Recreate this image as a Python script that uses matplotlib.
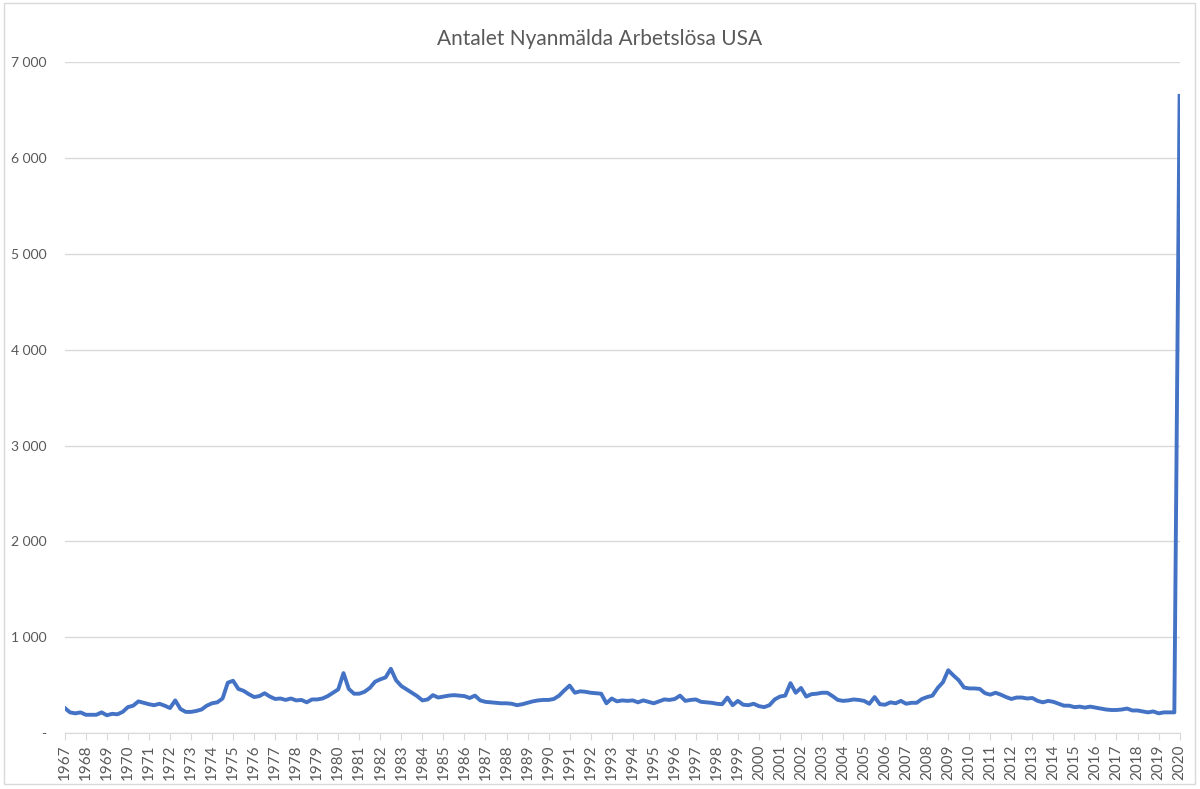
import matplotlib
matplotlib.use("Agg")
import matplotlib.pyplot as plt
from matplotlib.patches import Rectangle
from matplotlib.ticker import FuncFormatter
import numpy as np

plt.rcParams['font.family'] = ['Lato', 'DejaVu Sans']

# kvartalsvärden (tusental), 1967 Q1 .. 2020 Q1
years = list(range(1967, 2021))
claims = [
    260, 215, 205, 215,   # 1967
    190, 190, 190, 215,   # 1968
    185, 200, 195, 220,   # 1969
    270, 285, 330, 315,   # 1970
    300, 290, 305, 285,   # 1971
    260, 340, 250, 220,   # 1972
    220, 230, 245, 285,   # 1973
    310, 320, 360, 525,   # 1974
    545, 460, 440, 405,   # 1975
    375, 385, 415, 380,   # 1976
    355, 360, 345, 360,   # 1977
    340, 345, 320, 350,   # 1978
    350, 360, 385, 420,   # 1979
    455, 625, 460, 410,   # 1980
    410, 430, 470, 535,   # 1981
    560, 580, 670, 550,   # 1982
    490, 455, 420, 385,   # 1983
    340, 350, 395, 370,   # 1984
    380, 390, 395, 390,   # 1985
    385, 365, 390, 340,   # 1986
    325, 320, 315, 310,   # 1987
    310, 305, 290, 300,   # 1988
    315, 330, 340, 345,   # 1989
    345, 355, 390, 445,   # 1990
    495, 420, 435, 430,   # 1991
    420, 415, 410, 310,   # 1992
    360, 330, 340, 335,   # 1993
    340, 320, 340, 325,   # 1994
    310, 330, 350, 345,   # 1995
    355, 390, 335, 345,   # 1996
    350, 325, 320, 315,   # 1997
    305, 300, 370, 290,   # 1998
    335, 295, 290, 305,   # 1999
    280, 270, 290, 350,   # 2000
    380, 390, 520, 420,   # 2001
    470, 380, 405, 410,   # 2002
    420, 420, 385, 345,   # 2003
    335, 340, 350, 345,   # 2004
    335, 305, 375, 300,   # 2005
    295, 320, 310, 335,   # 2006
    305, 315, 315, 355,   # 2007
    375, 390, 470, 530,   # 2008
    655, 600, 550, 475,   # 2009
    465, 465, 460, 415,   # 2010
    400, 420, 400, 375,   # 2011
    355, 370, 370, 360,   # 2012
    365, 335, 320, 335,   # 2013
    325, 305, 285, 285,   # 2014
    270, 275, 265, 275,   # 2015
    265, 255, 245, 240,   # 2016
    240, 245, 255, 235,   # 2017
    235, 225, 215, 225,   # 2018
    205, 215, 215, 215,   # 2019
    6650,                 # 2020
]

x = np.arange(len(claims))

fig = plt.figure(figsize=(12, 7.89), dpi=100)
ax = fig.add_axes([0.054, 0.071, 0.929, 0.850])

ax.plot(x, claims, color="#4472C4", linewidth=2.8, solid_joinstyle="round")

ax.set_xlim(0, len(claims) - 1)
ax.set_ylim(0, 7000)
ax.set_yticks(np.arange(0, 7001, 1000))
ax.yaxis.set_major_formatter(FuncFormatter(
    lambda v, p: "-" if v == 0 else f"{int(v):,}".replace(",", " ")))
ax.grid(axis="y", color="#d9d9d9", linewidth=1)
ax.set_axisbelow(True)

ax.set_xticks(x[::4])
ax.set_xticklabels([str(y) for y in years], rotation=90)

for s in ["top", "right", "left"]:
    ax.spines[s].set_visible(False)
ax.spines["bottom"].set_color("#d9d9d9")
ax.tick_params(axis="y", length=0, labelsize=10, labelcolor="#595959", pad=13)
ax.tick_params(axis="x", length=5, color="#d9d9d9", labelsize=11,
               labelcolor="#595959", pad=3)

fig.suptitle("Antalet Nyanmälda Arbetslösa USA", y=0.963, fontsize=15,
             color="#595959")

fig.patches.append(Rectangle((0.003, 0.006), 0.993, 0.99, transform=fig.transFigure,
                             fill=False, edgecolor="#d9d9d9", linewidth=1))

fig.savefig("out.png", dpi=100)
